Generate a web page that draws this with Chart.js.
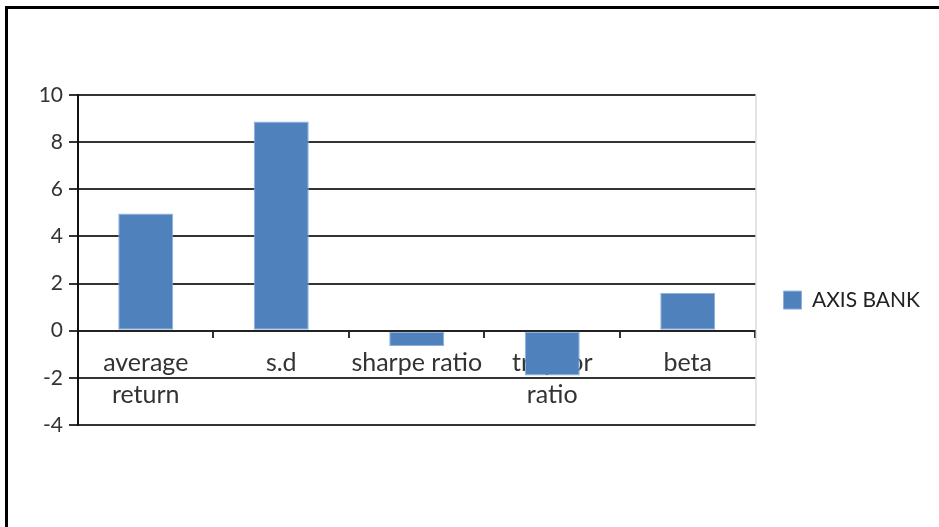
<!DOCTYPE html>
<html lang="en">

<head>
    <meta charset="UTF-8">
    <title>AXIS BANK</title>
    <script src="https://cdn.jsdelivr.net/npm/chart.js"></script>
    <style>
        html,
        body {
            margin: 0;
            padding: 0;
            background: #fff;
            overflow: hidden;
            width: 939px;
            height: 527px;
        }

        .frame {
            position: absolute;
            left: 5px;
            top: 6px;
            width: 940px;
            height: 600px;
            border-left: 3px solid #000;
            border-top: 3px solid #000;
        }

        .chart-container {
            position: absolute;
            left: 8px;
            top: 10px;
            width: 931px;
            height: 580px;
        }
    </style>
</head>

<body>
    <div class="frame"></div>
    <div class="chart-container">
        <canvas id="axisChart"></canvas>
    </div>

    <script>
        const categories = [['average', 'return'], 's.d', 'sharpe ratio', ['treynor', 'ratio'], 'beta'];
        const axisBank = [4.97, 8.88, -0.65, -1.9, 1.6];
        const yMin = -4;
        const yMax = 10;
        const yStep = 2;

        const fontFamily = 'Lato, "Open Sans", sans-serif';

        // light grey line on the right side of the plot area
        const plotEdge = {
            id: 'plotEdge',
            beforeDatasetsDraw(chart) {
                const { ctx, chartArea } = chart;
                ctx.save();
                ctx.strokeStyle = '#c8c8c8';
                ctx.lineWidth = 1;
                ctx.beginPath();
                ctx.moveTo(chartArea.right + 0.5, chartArea.top);
                ctx.lineTo(chartArea.right + 0.5, chartArea.bottom);
                ctx.stroke();
                ctx.restore();
            }
        };

        const ctx = document.getElementById('axisChart').getContext('2d');
        new Chart(ctx, {
            type: 'bar',
            data: {
                labels: categories,
                datasets: [{
                    label: 'AXIS BANK',
                    data: axisBank,
                    backgroundColor: '#4F81BD',
                    borderColor: '#8fb0db',
                    borderWidth: 1,
                    borderSkipped: false,
                    categoryPercentage: 1,
                    barPercentage: 0.406
                }]
            },
            options: {
                responsive: true,
                maintainAspectRatio: false,
                animation: false,
                layout: {
                    padding: { left: 0, top: 85, right: 9, bottom: 165 }
                },
                plugins: {
                    tooltip: { enabled: false },
                    legend: {
                        position: 'right',
                        title: {
                            display: true,
                            text: ' ',
                            font: { size: 1 },
                            padding: { top: 79, bottom: 0 }
                        },
                        labels: {
                            boxWidth: 18,
                            boxHeight: 18,
                            padding: 28,
                            color: '#222',
                            font: { family: fontFamily, size: 21 }
                        }
                    }
                },
                scales: {
                    x: {
                        position: { y: 0 },
                        grid: {
                            offset: true,
                            drawOnChartArea: false,
                            drawTicks: true,
                            tickLength: 6,
                            color: '#333',
                            lineWidth: 2
                        },
                        border: { color: '#222', width: 2 },
                        ticks: {
                            color: '#333',
                            padding: 10,
                            maxRotation: 0,
                            autoSkip: false,
                            font: { family: fontFamily, size: 25, lineHeight: 1.28 }
                        }
                    },
                    y: {
                        min: yMin,
                        max: yMax,
                        afterFit(scale) {
                            scale.width = 70;
                        },
                        grid: {
                            color: '#333',
                            lineWidth: 2,
                            tickLength: 9
                        },
                        border: { color: '#111', width: 2 },
                        ticks: {
                            stepSize: yStep,
                            padding: 6,
                            color: '#333',
                            font: { family: fontFamily, size: 21 }
                        }
                    }
                }
            },
            plugins: [plotEdge]
        });
    </script>
</body>

</html>
